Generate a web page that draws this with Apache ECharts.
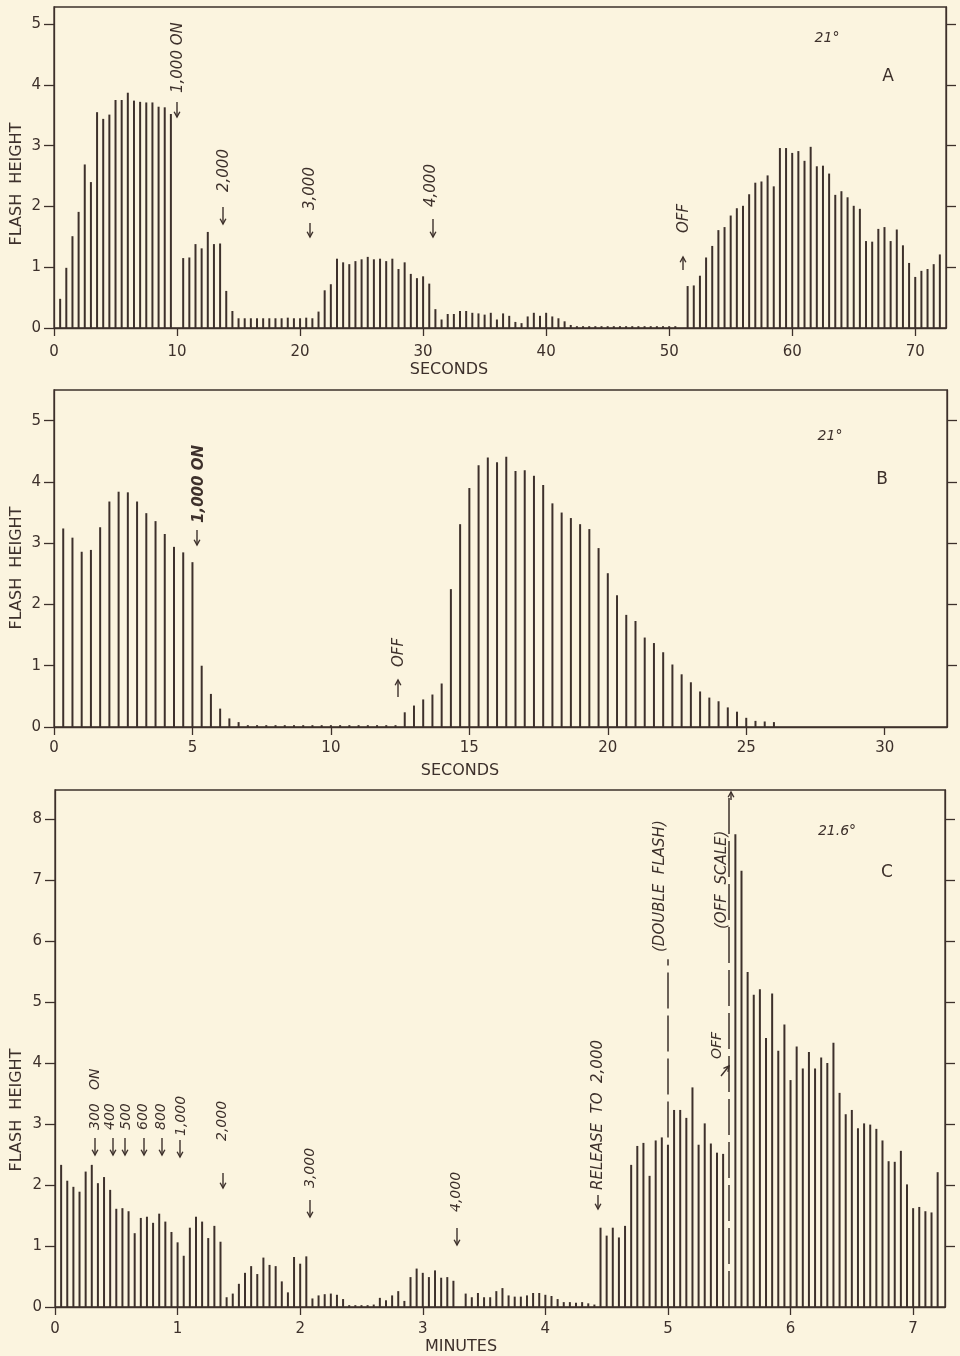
<!DOCTYPE html>
<html><head><meta charset="utf-8">
<script src="https://cdn.jsdelivr.net/npm/echarts@6/dist/echarts.min.js"></script>
<style>html,body{margin:0;padding:0;background:#fbf4df;}#c{width:960px;height:1356px;}</style>
</head><body><div id="c"></div>
<script>
// ---------------- DATA ----------------
// Panel A: flashes every 0.5 s (seconds)
const timeStartA = 0.5, timeStepA = 0.5;
const flashA = [0.48,0.99,1.51,1.91,2.69,2.40,3.55,3.44,3.51,3.75,3.75,3.87,3.74,3.72,3.71,3.71,3.64,3.63,3.52,null,
  1.15,1.16,1.38,1.31,1.58,1.38,1.39,0.61,0.28,
  0.16,0.16,0.16,0.16,0.16,0.16,0.16,0.16,0.17,0.16,0.16,0.17,0.16,
  0.27,0.62,0.72,1.14,1.08,1.05,1.10,1.13,1.17,1.13,1.14,1.10,1.14,0.97,1.08,0.89,0.82,0.85,0.73,0.31,
  0.14,0.23,0.23,0.28,0.28,0.25,0.24,0.22,0.25,0.14,0.24,0.20,0.10,0.08,0.19,0.25,0.20,0.25,0.19,0.16,0.11,0.05,
  0.03,0.03,0.03,0.03,0.03,0.03,0.03,0.03,0.03,0.03,0.03,0.03,0.03,0.03,0.03,0.03,0.03,null,
  0.69,0.70,0.86,1.16,1.35,1.61,1.66,1.85,1.97,2.01,2.20,2.39,2.41,2.51,2.33,2.96,2.96,2.88,2.91,2.75,2.98,
  2.66,2.67,2.54,2.19,2.25,2.15,2.01,1.96,1.43,1.42,1.63,1.66,1.43,1.62,1.36,1.07,0.84,0.94,0.97,1.05,1.21];
const xTicksA = [0,10,20,30,40,50,60,70];
const yTicksA = [0,1,2,3,4,5];

// Panel B: flashes every 1/3 s (seconds)
const timeStartB = 1/3, timeStepB = 1/3;
const flashB = [3.24,3.09,2.86,2.89,3.26,3.68,3.84,3.83,3.68,3.49,3.36,3.15,2.94,2.85,2.69,1.00,0.54,0.30,0.14,0.08,
  0.03,0.03,0.03,0.03,0.03,0.03,0.03,0.03,0.03,0.03,0.03,0.03,0.03,0.03,0.03,0.03,0.03,
  0.24,0.35,0.45,0.53,0.71,2.25,3.31,3.90,4.27,4.40,4.32,4.41,4.18,4.19,4.10,3.95,3.65,3.50,3.41,3.31,
  3.23,2.92,2.51,2.15,1.83,1.73,1.46,1.37,1.22,1.02,0.86,0.73,0.58,0.48,0.42,0.32,0.25,0.15,0.10,0.09,0.08];
const xTicksB = [0,5,10,15,20,25,30];
const yTicksB = [0,1,2,3,4,5];

// Panel C: flashes every 0.05 min (minutes)
const timeStartC = 0.05, timeStepC = 0.05;
const flashC = [2.33,2.07,1.97,1.89,2.22,2.33,2.03,2.13,1.92,1.61,1.62,1.57,1.21,1.46,1.48,1.38,1.53,1.40,1.23,1.06,
  0.84,1.30,1.48,1.40,1.13,1.33,1.07,0.16,0.22,0.38,0.56,0.67,0.54,0.81,0.69,0.67,0.42,0.24,0.82,0.71,
  0.83,0.14,0.19,0.21,0.22,0.20,0.13,0.03,0.03,0.03,0.03,0.04,0.15,0.11,0.19,0.26,0.10,0.49,0.63,0.56,
  0.49,0.60,0.48,0.49,0.43,null,0.22,0.16,0.23,0.16,0.16,0.26,0.31,0.19,0.17,0.17,0.19,0.23,0.23,0.20,
  0.18,0.13,0.08,0.08,0.07,0.08,0.06,0.04,1.30,1.17,1.30,1.14,1.33,2.33,2.64,2.69,2.15,2.73,2.78,2.66,
  3.23,3.23,3.10,3.60,2.66,3.01,2.68,2.53,2.51,null,7.75,7.15,5.49,5.12,5.21,4.41,5.14,4.20,4.63,3.72,
  4.27,3.91,4.18,3.91,4.09,4.00,4.33,3.51,3.16,3.23,2.93,3.01,2.99,2.92,2.73,2.39,2.38,2.56,2.01,1.62,
  1.64,1.57,1.55,2.21];
const xTicksC = [0,1,2,3,4,5,6,7];
const yTicksC = [0,1,2,3,4,5,6,7,8];
const doubleFlashLine = [5.0, 2.78, 5.70];   // minute, from height, to height
const offScaleLine = [5.5, 0, 8.45];

// ---------------- STYLE ----------------
const ink = '#3d302b';
const bg = '#fbf4df';
const FF = '"DejaVu Sans", sans-serif';

function pairs(start, step, vals) {
  return vals.map((v, i) => [+(start + i * step).toFixed(4), v]);
}

const panels = [
  {grid:{left:54, top:7, width:892, height:321}, xMax:72.5, xInt:10, yMax:5.28, xTicks:xTicksA, yTicks:yTicksA, xMargin:17,
   data: pairs(timeStartA, timeStepA, flashA)},
  {grid:{left:54, top:390, width:893, height:337}, xMax:32.25, xInt:5, yMax:5.5, xTicks:xTicksB, yTicks:yTicksB, xMargin:14,
   data: pairs(timeStartB, timeStepB, flashB)},
  {grid:{left:55, top:790, width:890, height:517}, xMax:7.26, xInt:1, yMax:8.475, xTicks:xTicksC, yTicks:yTicksC, xMargin:15,
   data: pairs(timeStartC, timeStepC, flashC)}
];

const lineSt = {color: ink, width: 1.3};
const grid = [], xAxis = [], yAxis = [], series = [];
panels.forEach((p, i) => {
  grid.push(Object.assign({show:true, borderColor:ink, borderWidth:1.3, backgroundColor:'transparent'}, p.grid));
  xAxis.push({gridIndex:i, type:'value', min:0, max:p.xMax, interval:p.xInt,
    axisLine:{show:true, onZero:false, lineStyle:lineSt},
    axisTick:{show:true, length:8, customValues:p.xTicks, lineStyle:lineSt},
    axisLabel:{customValues:p.xTicks, margin:p.xMargin, color:ink, fontFamily:FF, fontSize:15},
    splitLine:{show:false}});
  yAxis.push({gridIndex:i, type:'value', min:0, max:p.yMax, interval:1, position:'left',
    axisLine:{show:true, onZero:false, lineStyle:lineSt},
    axisTick:{show:true, length:10, customValues:p.yTicks, lineStyle:lineSt},
    axisLabel:{customValues:p.yTicks, margin:13, color:ink, fontFamily:FF, fontSize:15},
    splitLine:{show:false}});
  yAxis.push({gridIndex:i, type:'value', min:0, max:p.yMax, interval:1, position:'right',
    axisLine:{show:true, onZero:false, lineStyle:lineSt},
    axisTick:{show:true, length:10, customValues:p.yTicks.filter(v => v > 0), lineStyle:lineSt},
    axisLabel:{show:false}, splitLine:{show:false}});
  const s = {type:'bar', xAxisIndex:i, yAxisIndex:2*i, data:p.data, barWidth:2,
    itemStyle:{color:ink}, silent:true, animation:false};
  if (i === 2) {
    s.markLine = {silent:true, symbol:['none','none'], label:{show:false}, animation:false,
      lineStyle:{color:ink, width:1.5, type:[36,7]},
      emphasis:{disabled:true},
      data:[
        [{coord:[doubleFlashLine[0], doubleFlashLine[1]]},{coord:[doubleFlashLine[0], doubleFlashLine[2]]}],
        [{coord:[offScaleLine[0], offScaleLine[1]]},{coord:[offScaleLine[0], offScaleLine[2]]}]
      ]};
  }
  series.push(s);
});

// ---------------- ANNOTATIONS ----------------
const g = [];
function vt(x, y, text, size, weight, italic) {
  g.push({type:'text', x:x, y:y, rotation:Math.PI/2, silent:true,
    style:{text:text, fill:ink, fontFamily:FF, fontSize:size, fontStyle: italic === false ? 'normal' : 'italic',
      fontWeight: weight || 'normal', align:'left', verticalAlign:'middle'}});
}
function vc(x, y, text, size) {
  g.push({type:'text', x:x, y:y, rotation:Math.PI/2, silent:true,
    style:{text:text, fill:ink, fontFamily:FF, fontSize:size, align:'center', verticalAlign:'middle'}});
}
function ht(x, y, text, size, italic) {
  g.push({type:'text', x:x, y:y, silent:true,
    style:{text:text, fill:ink, fontFamily:FF, fontSize:size, fontStyle: italic ? 'italic' : 'normal',
      align:'center', verticalAlign:'middle'}});
}
function arrow(x1, y1, x2, y2) {
  const a = Math.atan2(y2 - y1, x2 - x1), h = 6, w = 0.5;
  const p1 = [x2 - h*Math.cos(a - w), y2 - h*Math.sin(a - w)];
  const p2 = [x2 - h*Math.cos(a + w), y2 - h*Math.sin(a + w)];
  g.push({type:'line', silent:true, shape:{x1:x1, y1:y1, x2:x2, y2:y2}, style:{stroke:ink, lineWidth:1.4}});
  g.push({type:'polyline', silent:true, shape:{points:[p1, [x2, y2], p2]}, style:{stroke:ink, lineWidth:1.4, fill:'none'}});
}

// axis names
vc(17, 184, 'FLASH  HEIGHT', 16);
vc(17, 568, 'FLASH  HEIGHT', 16);
vc(17, 1110, 'FLASH  HEIGHT', 16);
ht(449, 370, 'SECONDS', 16);
ht(460, 771, 'SECONDS', 16);
ht(461, 1347, 'MINUTES', 16);

// Panel A
vt(178, 93, '1,000 ON', 15); arrow(177, 102, 177, 117);
vt(224, 192, '2,000', 15); arrow(223, 207, 223, 224);
vt(310, 210, '3,000', 15); arrow(310, 223, 310, 237);
vt(431, 207, '4,000', 15); arrow(433, 219, 433, 237);
vt(684, 233, 'OFF', 15); arrow(683, 270, 683, 257);
ht(827, 38, '21°', 14, true);
ht(888, 77, 'A', 17);

// Panel B
vt(199, 523, '1,000 ON', 15, 'bold'); arrow(197, 530, 197, 545);
vt(399, 667, 'OFF', 15); arrow(398, 697, 398, 680);
ht(830, 436, '21°', 14, true);
ht(882, 480, 'B', 17);

// Panel C
vt(95, 1130, '300   ON', 14); arrow(95, 1138, 95, 1155);
vt(110, 1130, '400', 14); arrow(113, 1138, 113, 1155);
vt(126, 1130, '500', 14); arrow(125, 1138, 125, 1155);
vt(143, 1130, '600', 14); arrow(144, 1138, 144, 1155);
vt(161, 1130, '800', 14); arrow(162, 1138, 162, 1155);
vt(181, 1136, '1,000', 14); arrow(180, 1140, 180, 1157);
vt(222, 1141, '2,000', 14); arrow(223, 1173, 223, 1188);
vt(310, 1188, '3,000', 14); arrow(310, 1200, 310, 1217);
vt(456, 1212, '4,000', 14); arrow(457, 1228, 457, 1245);
vt(598, 1190, 'RELEASE  TO  2,000', 15); arrow(598, 1195, 598, 1209);
vt(660, 952, '(DOUBLE  FLASH)', 15);
vt(722, 929, '(OFF  SCALE)', 15);
vt(717, 1059, 'OFF', 14); arrow(721, 1076, 729, 1066);
arrow(731, 800, 731, 792);
ht(837, 831, '21.6°', 14, true);
ht(887, 873, 'C', 17);

const chart = echarts.init(document.getElementById('c'), null, {renderer:'canvas'});
chart.setOption({
  backgroundColor: bg,
  animation: false,
  grid: grid, xAxis: xAxis, yAxis: yAxis, series: series,
  graphic: {elements: g}
});
</script></body></html>
